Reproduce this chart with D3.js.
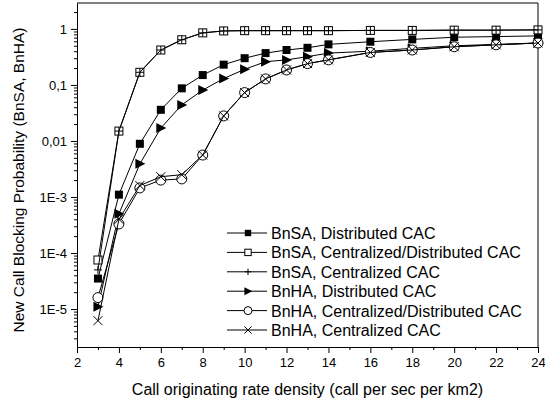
<!DOCTYPE html>
<html>
<head>
<meta charset="utf-8">
<script src="https://cdn.jsdelivr.net/npm/d3@7"></script>
<style>
  body { margin: 0; background: #fff; }
  svg { display: block; font-family: "Liberation Sans", Arial, sans-serif; }
  .axis path, .axis line { stroke: #000; }
  .axis text { font-size: 13px; fill: #000; }
</style>
</head>
<body>
<div class="chart"></div>
<script>
'use strict';
(function() {
  // Data
  var xValues = [3, 4, 5, 6, 7, 8, 9, 10, 11, 12, 13, 14, 16, 18, 20, 22, 24];
  var bnsaDistributed = [3.5e-5, 1.1e-3, 0.0089, 0.036, 0.087, 0.15, 0.23, 0.30, 0.37, 0.42, 0.46, 0.53, 0.59, 0.65, 0.71, 0.73, 0.75];
  var bnsaCentDist = [7.5e-5, 0.015, 0.168, 0.42, 0.64, 0.85, 0.92, 0.93, 0.93, 0.93, 0.93, 0.93, 0.94, 0.94, 0.95, 0.95, 0.96];
  var bnsaCentralized = [5e-5, 0.015, 0.168, 0.42, 0.64, 0.85, 0.92, 0.93, 0.93, 0.93, 0.93, 0.93, 0.94, 0.94, 0.95, 0.95, 0.96];
  var bnhaDistributed = [1.1e-5, 5e-4, 0.0039, 0.017, 0.044, 0.081, 0.13, 0.19, 0.26, 0.28, 0.32, 0.37, 0.40, 0.45, 0.50, 0.53, 0.56];
  var bnhaCentDist = [1.6e-5, 3.3e-4, 1.45e-3, 2.0e-3, 2.1e-3, 5.6e-3, 0.028, 0.073, 0.128, 0.185, 0.24, 0.28, 0.38, 0.42, 0.48, 0.52, 0.56];
  var bnhaCentralized = [6.2e-6, 4e-4, 1.6e-3, 2.3e-3, 2.5e-3, 5.6e-3, 0.028, 0.073, 0.128, 0.185, 0.24, 0.28, 0.38, 0.42, 0.48, 0.52, 0.56];

  var seriesNames = ['BnSA, Distributed CAC', 'BnSA, Centralized/Distributed CAC', 'BnSA, Centralized CAC',
    'BnHA, Distributed CAC', 'BnHA, Centralized/Distributed CAC', 'BnHA, Centralized CAC'];
  var seriesValues = [bnsaDistributed, bnsaCentDist, bnsaCentralized, bnhaDistributed, bnhaCentDist, bnhaCentralized];
  var seriesMarkers = ['square', 'openSquare', 'plus', 'triangle', 'circle', 'cross'];

  var xTicks = [2, 4, 6, 8, 10, 12, 14, 16, 18, 20, 22, 24];
  var yTicks = [1e-5, 1e-4, 1e-3, 0.01, 0.1, 1];
  var yTickLabels = ['1E-5', '1E-4', '1E-3', '0,01', '0,1', '1'];

  var xTitle = 'Call originating rate density (call per sec per km2)';
  var yTitle = 'New Call Blocking Probability (BnSA, BnHA)';

  // Size
  var w = 545;
  var h = 404;
  var left = 77, right = 538, top = 3, bottom = 347;

  var svg = d3.select('.chart')
    .append('svg')
    .attr('width', w)
    .attr('height', h);

  var xScale = d3.scaleLinear().domain([2, 24]).range([left, right]);
  var yScale = d3.scaleLog().domain([2.1e-6, 2.9]).range([bottom, top]);

  // Minor ticks
  var xMinor = d3.range(3, 24, 2);
  var yMinor = [];
  for (var e = -6; e <= 0; e++) {
    for (var m = 2; m <= 9; m++) {
      var v = m * Math.pow(10, e);
      if (v >= 2.1e-6 && v <= 2.9) yMinor.push(v);
    }
  }

  svg.append('g')
    .attr('class', 'axis')
    .attr('transform', 'translate(0,' + bottom + ')')
    .call(d3.axisBottom(xScale).tickValues(xMinor).tickSize(3).tickFormat(''))
    .select('.domain').remove();
  svg.append('g')
    .attr('class', 'axis')
    .attr('transform', 'translate(0,' + bottom + ')')
    .call(d3.axisBottom(xScale).tickValues(xTicks).tickSize(6).tickSizeOuter(0).tickPadding(5).tickFormat(d3.format('d')));

  svg.append('g')
    .attr('class', 'axis')
    .attr('transform', 'translate(' + left + ',0)')
    .call(d3.axisLeft(yScale).tickValues(yMinor).tickSize(3).tickFormat(''))
    .select('.domain').remove();
  svg.append('g')
    .attr('class', 'axis')
    .attr('transform', 'translate(' + left + ',0)')
    .call(d3.axisLeft(yScale).tickValues(yTicks).tickSize(6).tickSizeOuter(0).tickPadding(4)
      .tickFormat(function(d, i) { return yTickLabels[i]; }));

  // Box top and right
  svg.append('path')
    .attr('d', 'M' + left + ',' + top + 'H' + right + 'V' + bottom)
    .attr('fill', 'none')
    .attr('stroke', '#000');

  // Titles
  svg.append('text')
    .attr('x', (left + right) / 2)
    .attr('y', 395)
    .attr('text-anchor', 'middle')
    .style('font-size', '16px')
    .text(xTitle);
  svg.append('text')
    .attr('transform', 'translate(24,' + ((top + bottom) / 2 + 5) + ') rotate(-90)')
    .attr('text-anchor', 'middle')
    .style('font-size', '15.5px')
    .text(yTitle);

  // Markers (k scales the size)
  var drawMarker = function(g, type, x, y, k) {
    if (type === 'square') {
      g.append('rect').attr('x', x - 4 * k).attr('y', y - 4 * k).attr('width', 8 * k).attr('height', 8 * k)
        .attr('fill', '#000');
    } else if (type === 'openSquare') {
      g.append('rect').attr('x', x - 4 * k).attr('y', y - 4 * k).attr('width', 8 * k).attr('height', 8 * k)
        .attr('fill', '#fff').attr('stroke', '#000');
    } else if (type === 'plus') {
      g.append('path').attr('d', 'M' + (x - 4 * k) + ',' + y + 'H' + (x + 4 * k) + 'M' + x + ',' + (y - 4 * k) + 'V' + (y + 4 * k))
        .attr('stroke', '#000').attr('fill', 'none');
    } else if (type === 'triangle') {
      g.append('path').attr('d', 'M' + (x - 4.5 * k) + ',' + (y - 5 * k) + 'L' + (x + 5.5 * k) + ',' + y + 'L' + (x - 4.5 * k) + ',' + (y + 5 * k) + 'Z')
        .attr('fill', '#000');
    } else if (type === 'circle') {
      g.append('circle').attr('cx', x).attr('cy', y).attr('r', 5 * k)
        .attr('fill', '#fff').attr('stroke', '#000');
    } else if (type === 'cross') {
      g.append('path').attr('d', 'M' + (x - 4.5 * k) + ',' + (y - 4.5 * k) + 'L' + (x + 4.5 * k) + ',' + (y + 4.5 * k) + 'M' + (x + 4.5 * k) + ',' + (y - 4.5 * k) + 'L' + (x - 4.5 * k) + ',' + (y + 4.5 * k))
        .attr('stroke', '#000').attr('fill', 'none');
    }
  };

  var line = d3.line()
    .x(function(d) { return xScale(d.x); })
    .y(function(d) { return yScale(d.y); });

  var plot = svg.append('g').attr('class', 'data');

  seriesValues.forEach(function(vals, s) {
    var pts = xValues.map(function(x, i) { return {x: x, y: vals[i]}; });
    var g = plot.append('g');
    g.append('path')
      .attr('d', line(pts))
      .attr('fill', 'none')
      .attr('stroke', '#000')
      .attr('stroke-width', 1);
    pts.forEach(function(p) {
      drawMarker(g, seriesMarkers[s], xScale(p.x), yScale(p.y), 1);
    });
  });

  // Legend
  var legend = svg.append('g').attr('class', 'legend');
  seriesNames.forEach(function(name, i) {
    var ly = 233 + i * 19.4;
    var lg = legend.append('g');
    lg.append('line')
      .attr('x1', 227).attr('x2', 267).attr('y1', ly).attr('y2', ly)
      .attr('stroke', '#000');
    drawMarker(lg, seriesMarkers[i], 248, ly, 0.8);
    lg.append('text')
      .attr('x', 271)
      .attr('y', ly + 6)
      .style('font-size', '16px')
      .text(name);
  });
})();
</script>
</body>
</html>
